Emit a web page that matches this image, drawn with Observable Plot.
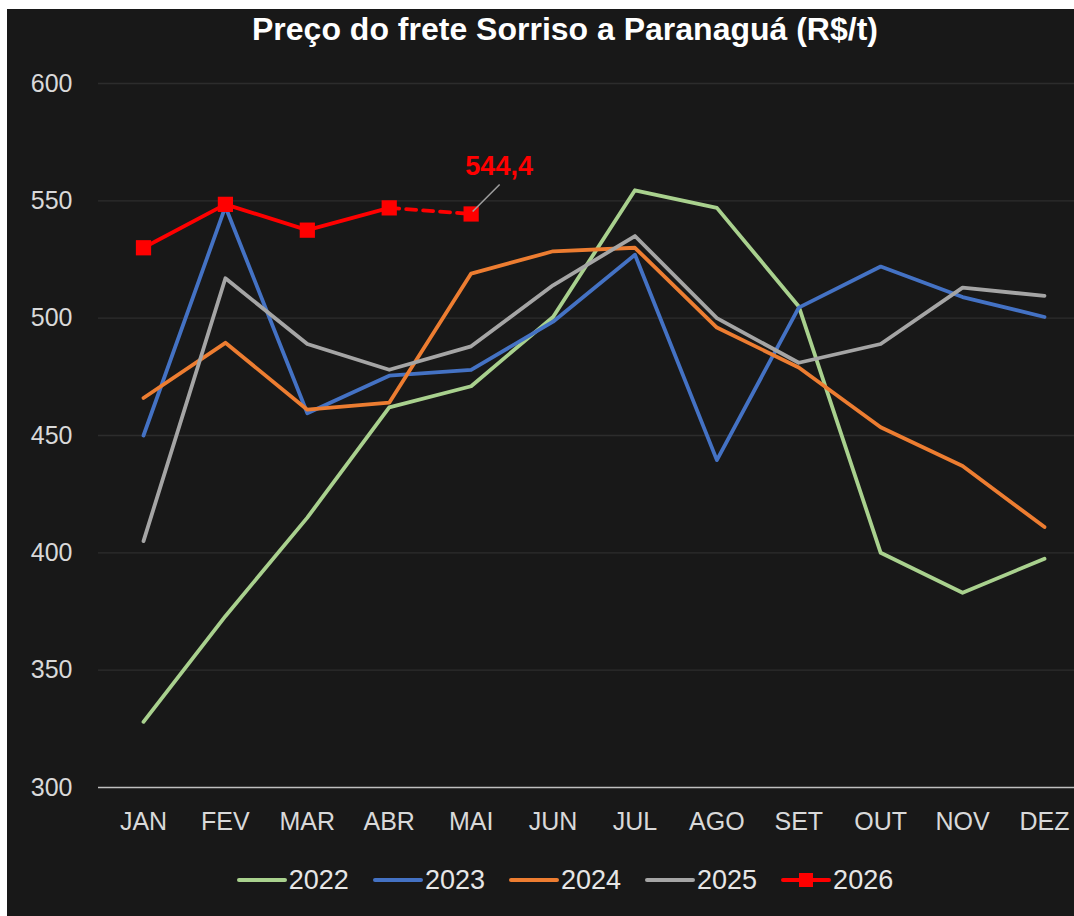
<!DOCTYPE html>
<html><head><meta charset="utf-8">
<script src="https://cdn.jsdelivr.net/npm/d3@7"></script>
<script src="https://cdn.jsdelivr.net/npm/@observablehq/plot@0.6"></script>
<style>
html,body{margin:0;padding:0;background:#fff;}
#chart{position:absolute;left:7px;top:9px;width:1067px;height:907px;background:#181818;font-family:"Liberation Sans",Arial,sans-serif;overflow:hidden;}
#title{position:absolute;left:0;top:0;width:1067px;padding-left:49px;box-sizing:border-box;text-align:center;color:#ffffff;font-weight:bold;font-size:32px;line-height:40px;}
#plot{position:absolute;left:0;top:51px;}
#legend{position:absolute;left:0;top:851px;width:1067px;height:40px;padding-left:49px;box-sizing:border-box;display:flex;justify-content:center;align-items:center;color:#e6e6e6;font-size:27px;}
.item{display:flex;align-items:center;margin:0 12px;}
.item span{margin-left:2px;}
</style></head>
<body>
<div id="chart">
  <div id="title">Preço do frete Sorriso a Paranaguá (R$/t)</div>
  <div id="plot"></div>
  <div id="legend"></div>
</div>
<script>
const months = ["JAN","FEV","MAR","ABR","MAI","JUN","JUL","AGO","SET","OUT","NOV","DEZ"];
const years = ["2022","2023","2024","2025","2026"];
const v2022 = [328, 373, 415, 462, 471, 500.5, 554.5, 547, 505, 400, 383, 397.5];
const v2023 = [450, 547.5, 459.5, 475.5, 478, 498.5, 527, 439.5, 504.5, 522, 509, 500.5];
const v2024 = [466, 489.5, 461, 464, 519, 528.5, 530, 496, 479, 453.5, 437, 411];
const v2025 = [405, 517, 489, 478, 488, 514, 535, 500, 481, 489, 513, 509.5];
const v2026 = [530, 548.5, 537.5, 547, 544.4];
const colors = ["#a9d18e","#4472c4","#ed7d31","#a5a5a5","#ff0000"];
const yTicks = [300, 350, 400, 450, 500, 550, 600];
const gridTicks = [350, 400, 450, 500, 550, 600];
const annotationLabel = "544,4";

const series = [v2022, v2023, v2024, v2025, v2026];
const rowsBy = series.map((vals, i) => vals.map((v, j) => ({month: months[j], value: v, year: years[i]})));
const r2026 = rowsBy[4];
const solid2026 = r2026.slice(0, 4);
const dashed2026 = r2026.slice(3, 5);
const last2026 = r2026[r2026.length - 1];

const font = '"Liberation Sans", Arial, sans-serif';

const plot = Plot.plot({
  width: 1067,
  height: 790,
  marginTop: 23,
  marginBottom: 63,
  marginLeft: 91,
  marginRight: 0,
  style: {background: "transparent", color: "#d9d9d9", fontSize: "25px", fontFamily: font, overflow: "visible"},
  x: {type: "point", domain: months, range: [136, 1037], padding: 0, round: false},
  y: {domain: [300, 600]},
  marks: [
    Plot.ruleY(gridTicks, {stroke: "#2c2c2c", strokeWidth: 1.3}),
    Plot.ruleY([300], {stroke: "#bfbfbf", strokeWidth: 1.6}),
    Plot.axisY(yTicks, {tickSize: 0, tickPadding: 26, fontSize: 25, fill: "#d9d9d9", label: null}),
    Plot.axisX({tickSize: 0, tickPadding: 25, fontSize: 25, fill: "#d9d9d9", label: null}),
    ...rowsBy.slice(0, 4).map((rows, i) => Plot.line(rows, {x: "month", y: "value", stroke: colors[i], strokeWidth: 3.8})),
    Plot.line(solid2026, {x: "month", y: "value", stroke: colors[4], strokeWidth: 3.8}),
    Plot.line(dashed2026, {x: "month", y: "value", stroke: colors[4], strokeWidth: 3.8, strokeDasharray: "10,7"}),
    Plot.dot(r2026, {x: "month", y: "value", symbol: "square", r: 8.6, fill: colors[4], stroke: "none"}),
    Plot.text([last2026], {x: "month", y: "value", text: () => annotationLabel, dx: 28, dy: -48, fill: "#ff0000", fontWeight: "bold", fontSize: 27})
  ]
});
document.getElementById("plot").appendChild(plot);

// leader line for the annotation, positioned via the plot's scales
const xs = plot.scale("x"), ys = plot.scale("y");
const px = xs.apply(last2026.month), py = ys.apply(last2026.value);
d3.select(plot).append("line")
  .attr("x1", px + 2).attr("y1", py - 2)
  .attr("x2", px + 29).attr("y2", py - 29)
  .attr("stroke", "#a0a0a0").attr("stroke-width", 1.5);

// legend
const legend = d3.select("#legend");
years.forEach((y, i) => {
  const it = legend.append("div").attr("class", "item");
  const s = it.append("svg").attr("width", 50).attr("height", 16);
  s.append("line").attr("x1", 2).attr("x2", 48).attr("y1", 8).attr("y2", 8)
    .attr("stroke", colors[i]).attr("stroke-width", 4).attr("stroke-linecap", "round");
  if (i === 4) s.append("rect").attr("x", 18).attr("y", 1).attr("width", 14).attr("height", 14).attr("fill", colors[i]);
  it.append("span").text(y);
});
</script>
</body></html>
